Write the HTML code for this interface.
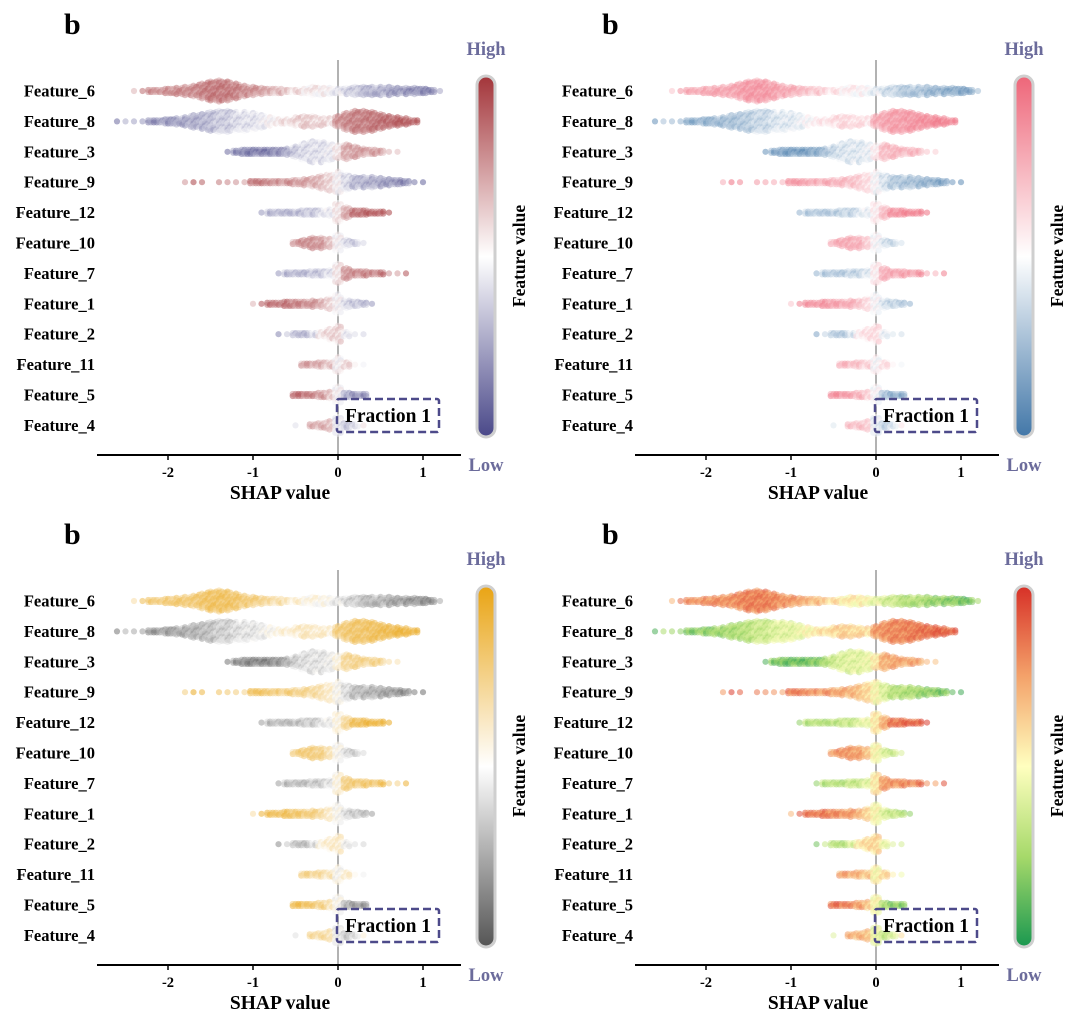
<!DOCTYPE html>
<html><head><meta charset="utf-8"><style>
html,body{margin:0;padding:0;background:#fff;}
svg{display:block;font-family:"Liberation Serif",serif;}
</style></head><body>
<svg id="chart" width="1080" height="1025" viewBox="0 0 1080 1025" xmlns="http://www.w3.org/2000/svg">
<defs id="defs"></defs>
</svg>
<script>
// ---- data ----
const features = ["Feature_6","Feature_8","Feature_3","Feature_9","Feature_12","Feature_10","Feature_7","Feature_1","Feature_2","Feature_11","Feature_5","Feature_4"];
const binStart = [-2.4,-2.6,-1.3,-1.8,-0.9,-0.5,-0.7,-1.0,-0.7,-0.4,-0.5,-0.5];
const binCounts = [
 [1,1,2,2,3,4,5,6,8,10,11,10,8,6,5,4,3,3,2,2,3,5,5,4,3,4,5,5,5,5,5,4,4,4,3,2,1],
 [1,1,1,1,2,2,3,4,5,7,8,10,11,11,10,10,9,7,5,3,3,5,6,6,5,4,6,9,11,11,10,8,6,5,4,2],
 [1,2,3,3,3,3,3,4,6,9,11,11,9,7,8,6,4,3,2,1,1],
 [1,1,1,0,1,1,1,1,2,2,2,2,2,3,4,5,7,9,11,8,6,6,6,5,4,3,2,1,1],
 [1,2,2,2,2,3,3,3,4,10,6,3,3,2,2,1],
 [2,4,6,6,5,9,4,2,1],
 [1,2,2,2,3,3,4,10,6,3,3,2,2,1,1,1],
 [1,1,2,2,3,3,3,4,4,6,10,5,3,2,1],
 [1,1,2,2,2,3,6,9,3,1,1],
 [2,2,3,3,8,3,1,1],
 [2,2,2,3,4,9,3,2,2],
 [1,0,2,3,5,9,3,2,1]
];
const binFeatureValue = [
 [0.78,0.78,0.78,0.78,0.78,0.78,0.78,0.78,0.8,0.82,0.82,0.82,0.8,0.78,0.76,0.74,0.7,0.68,0.64,0.6,0.55,0.55,0.53,0.5,0.45,0.38,0.36,0.32,0.3,0.3,0.26,0.24,0.22,0.2,0.18,0.16,0.16],
 [0.18,0.18,0.18,0.18,0.2,0.22,0.22,0.24,0.26,0.28,0.3,0.32,0.36,0.36,0.4,0.42,0.42,0.46,0.5,0.55,0.58,0.6,0.62,0.6,0.6,0.58,0.76,0.78,0.8,0.8,0.82,0.84,0.86,0.88,0.88,0.88],
 [0.18,0.18,0.18,0.16,0.14,0.16,0.2,0.26,0.35,0.4,0.42,0.42,0.45,0.55,0.7,0.72,0.74,0.74,0.74,0.72,0.72],
 [0.86,0.88,0.84,0.84,0.84,0.84,0.84,0.84,0.84,0.82,0.8,0.78,0.78,0.74,0.72,0.7,0.66,0.6,0.5,0.4,0.32,0.3,0.28,0.26,0.24,0.2,0.18,0.18,0.16],
 [0.3,0.3,0.3,0.3,0.32,0.35,0.35,0.4,0.45,0.55,0.7,0.84,0.86,0.88,0.88,0.88],
 [0.74,0.78,0.76,0.74,0.65,0.5,0.4,0.35,0.3],
 [0.3,0.3,0.3,0.3,0.35,0.35,0.42,0.55,0.74,0.78,0.8,0.8,0.84,0.84,0.84,0.84],
 [0.78,0.84,0.84,0.84,0.84,0.8,0.78,0.75,0.7,0.6,0.5,0.4,0.35,0.3,0.3],
 [0.25,0.25,0.3,0.3,0.4,0.55,0.6,0.6,0.45,0.35,0.35],
 [0.74,0.72,0.7,0.65,0.5,0.6,0.6,0.55],
 [0.86,0.84,0.8,0.75,0.65,0.5,0.3,0.2,0.2],
 [0.5,0.5,0.7,0.7,0.65,0.45,0.35,0.4,0.5]
];
const xTicks = [-2,-1,0,1];
const xTickLabels = ["-2","-1","0","1"];
const colormaps = [
 [[0,"#4a4889"],[0.5,"#ffffff"],[1,"#a3353a"]],
 [[0,"#4277a8"],[0.5,"#ffffff"],[1,"#ee6679"]],
 [[0,"#555555"],[0.5,"#ffffff"],[1,"#e9a414"]],
 [[0,"#1a9850"],[0.25,"#a6d96a"],[0.5,"#ffffbf"],[0.75,"#f4a26a"],[1,"#d73027"]]
];
const panelOffsets = [[0,0],[538,0],[0,510],[538,510]];

// ---- helpers ----
const NS="http://www.w3.org/2000/svg";
const svg=document.getElementById('chart');
const defs=document.getElementById('defs');
function mk(tag,attrs,parent){const e=document.createElementNS(NS,tag);for(const k in attrs)e.setAttribute(k,attrs[k]);(parent||svg).appendChild(e);return e;}
const X0=338, XS=85, ROW0=91, ROWH=30.4;
function xScale(v){return X0+v*XS;}
function yRow(i){return ROW0+i*ROWH;}
function hex(h){return [parseInt(h.substr(1,2),16),parseInt(h.substr(3,2),16),parseInt(h.substr(5,2),16)];}
function cmap(stops,t){t=Math.max(0,Math.min(1,t));
 for(let i=0;i<stops.length-1;i++){const a=stops[i],b=stops[i+1];
  if(t<=b[0]){const f=(t-a[0])/(b[0]-a[0]);const A=hex(a[1]),B=hex(b[1]);
   return `rgb(${Math.round(A[0]+(B[0]-A[0])*f)},${Math.round(A[1]+(B[1]-A[1])*f)},${Math.round(A[2]+(B[2]-A[2])*f)})`;}}
 return stops[stops.length-1][1];}

panelOffsets.forEach((off,p)=>{
 const g=mk('g',{transform:`translate(${off[0]},${off[1]})`});
 
 
 const stops=colormaps[p];
 const b=mk('text',{x:64,y:34,'font-size':30,'font-weight':'bold',fill:'#000'},g);b.textContent='b';
 
 
 const zl=mk('line',{x1:xScale(0),x2:xScale(0),y1:60,y2:455,stroke:'#999',"stroke-width":1.5},g);
 
 
 features.forEach((f,i)=>{
  const lab=mk('text',{x:95,y:yRow(i)+5.5,'text-anchor':'end','font-size':16.5,'font-weight':'bold',fill:'#000'},g);
  lab.textContent=f;
  
  
  const fg=mk('g',{},g);
  
  
  binCounts[i].forEach((n,k)=>{
   if(n<=0)return;
   const v=binStart[i]+k*0.1;
   const cols=n>=2?[-2.8,0,2.8]:[0];
   cols.forEach((dx,c)=>{
    const m=Math.max(1,n-(c===1?0:(n>3?1:0)));
    for(let j=0;j<m;j++){
     const dy=(j-(m-1)/2)*2.1;
     const t=binFeatureValue[i][k]+(((i*7+k*13+j*5+c*3)%7)-3)*0.03;
     const d=mk('circle',{cx:(xScale(v)+dx).toFixed(2),cy:(yRow(i)+dy).toFixed(2),r:3.1,fill:cmap(stops,t),'fill-opacity':0.55},fg);
     
     
    }
   });
  });
 });
 const ax=mk('line',{x1:97,x2:461,y1:455,y2:455,stroke:'#000','stroke-width':2},g);
 
 
 xTicks.forEach((t,k)=>{
  const tk=mk('line',{x1:xScale(t),x2:xScale(t),y1:455,y2:460,stroke:'#000','stroke-width':1.5},g);
  
  
  const tl=mk('text',{x:xScale(t),y:477,'text-anchor':'middle','font-size':14.5,'font-weight':'bold',fill:'#000'},g);
  tl.textContent=xTickLabels[k];
  
  
 });
 const xt=mk('text',{x:280,y:499,'text-anchor':'middle','font-size':19.5,'font-weight':'bold',fill:'#000'},g);
 xt.textContent='SHAP value';
 
 
 const gid='grad'+p;
 const lg=mk('linearGradient',{id:gid,x1:0,y1:1,x2:0,y2:0},defs);
 stops.forEach(s=>mk('stop',{offset:s[0],'stop-color':s[1]},lg));
 const cb=mk('rect',{x:477,y:76,width:18,height:361,rx:9,fill:`url(#${gid})`,stroke:'#cfcfcf','stroke-width':3},g);
 
 
 const hi=mk('text',{x:486,y:55,'text-anchor':'middle','font-size':18.5,'font-weight':'bold',fill:'#6b6b9b'},g);
 hi.textContent='High';
 
 
 const lo=mk('text',{x:486,y:471,'text-anchor':'middle','font-size':18.5,'font-weight':'bold',fill:'#6b6b9b'},g);
 lo.textContent='Low';
 
 
 const fv=mk('text',{x:0,y:0,transform:'translate(525,256) rotate(-90)','text-anchor':'middle','font-size':17.5,'font-weight':'bold',fill:'#000'},g);
 fv.textContent='Feature value';
 
 
 const fb=mk('rect',{x:337,y:399,width:102,height:33,rx:2,fill:'none',stroke:'#4d4a8a','stroke-width':2.5,'stroke-dasharray':'8,4'},g);
 
 
 const ft=mk('text',{x:388,y:422,'text-anchor':'middle','font-size':19.5,'font-weight':'bold',fill:'#000'},g);
 ft.textContent='Fraction 1';
 
 
});
</script>
</body></html>
